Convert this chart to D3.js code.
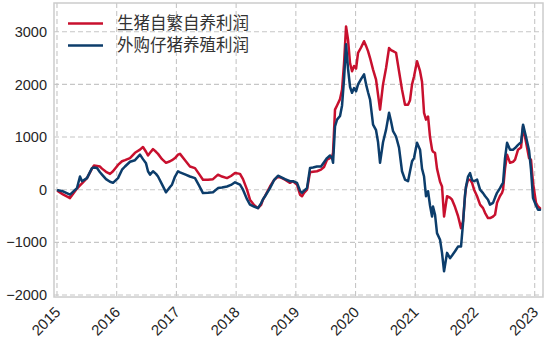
<!DOCTYPE html>
<html>
<head>
<meta charset="utf-8">
<script src="https://cdn.jsdelivr.net/npm/d3@7"></script>
<style>
  html, body { margin: 0; padding: 0; background: #ffffff; }
  svg { display: block; }
</style>
</head>
<body>
<svg id="chart" width="550" height="343"></svg>
<script>
// Hog farming profit (yuan/head): self-bred vs. purchased piglets, sampled in decimal years
const years = [
  2015.017, 2015.100, 2015.218, 2015.335, 2015.385, 2015.419, 2015.502, 2015.586, 2015.620, 2015.670,
  2015.720, 2015.754, 2015.821, 2015.888, 2015.938, 2016.022, 2016.089, 2016.139, 2016.223, 2016.306,
  2016.390, 2016.440, 2016.491, 2016.524, 2016.558, 2016.608, 2016.658, 2016.692, 2016.759, 2016.826,
  2016.893, 2016.926, 2016.977, 2017.027, 2017.060, 2017.144, 2017.227, 2017.311, 2017.378, 2017.445,
  2017.529, 2017.613, 2017.696, 2017.763, 2017.847, 2017.914, 2017.981, 2018.065, 2018.115, 2018.182,
  2018.232, 2018.299, 2018.366, 2018.417, 2018.450, 2018.484, 2018.567, 2018.634, 2018.701, 2018.768,
  2018.818, 2018.902, 2018.952, 2019.020, 2019.070, 2019.103, 2019.137, 2019.187, 2019.237, 2019.287,
  2019.354, 2019.421, 2019.472, 2019.522, 2019.572, 2019.606, 2019.623, 2019.656, 2019.690, 2019.740,
  2019.774, 2019.807, 2019.841, 2019.874, 2019.908, 2019.941, 2019.975, 2020.009, 2020.042, 2020.092,
  2020.142, 2020.176, 2020.209, 2020.243, 2020.293, 2020.343, 2020.377, 2020.410, 2020.460, 2020.511,
  2020.561, 2020.594, 2020.628, 2020.678, 2020.728, 2020.778, 2020.828, 2020.879, 2020.912, 2020.946,
  2020.979, 2021.029, 2021.080, 2021.113, 2021.147, 2021.180, 2021.214, 2021.247, 2021.281, 2021.297,
  2021.331, 2021.364, 2021.415, 2021.448, 2021.482, 2021.532, 2021.582, 2021.616, 2021.666, 2021.716,
  2021.766, 2021.800, 2021.833, 2021.850, 2021.884, 2021.917, 2021.951, 2021.985, 2022.035, 2022.085,
  2022.135, 2022.168, 2022.218, 2022.252, 2022.302, 2022.336, 2022.369, 2022.419, 2022.453, 2022.470,
  2022.503, 2022.537, 2022.587, 2022.637, 2022.671, 2022.721, 2022.771, 2022.805, 2022.855, 2022.905,
  2022.938, 2022.972, 2023.022, 2023.056, 2023.089
];

// 生猪自繁自养利润
const selfBred = [
   -30,  -90, -160,   20,   80,  120,  220,  400,  460,  450,
   440,  400,  340,  300,  350,  470,  540,  560,  600,  700,
   760,  810,  720,  650,  700,  770,  720,  680,  580,  510,
   540,  560,  600,  665,  680,  560,  440,  410,  300,  190,
   190,  200,  285,  250,  220,  260,  315,  300,  200,    0,
  -190, -290, -350, -290, -190, -120,   60,  180,  250,  220,
   190,  130,  160,   95,  -95, -125,  -60,    0,  330,  340,
   350,  380,  430,  570,  600,  630,  700, 1520, 1600, 1720,
  1900, 2400, 3100, 2850, 2400, 2250, 2350, 2300, 2600, 2700,
  2820, 2730, 2630, 2500, 2280, 2090, 1800, 1520, 2000, 2310,
  2690, 2650, 2630, 2600, 2250, 1900, 1615, 1615, 1700, 2000,
  2150, 2440, 2250, 2050, 1460, 1330, 1390, 1000,  760,  720,
   700,  400,  150,   60, -510, -125, -150, -190, -330, -500,
  -730, -600, -125,   50,  190,  190,  130,    0, -125, -285,
  -350, -440, -540, -540, -510, -475, -250, -120,  -60,    0,
   400,  665,  510,  530,  570,  760,  800, 1200,  900,  600,
   570,  130, -250, -320, -350
];

// 外购仔猪养殖利润
const purchased = [
   -10,  -30,  -95,   30,  250,  160,  220,  410,  420,  410,
   330,  285,  200,  150,  130,  220,  380,  440,  530,  560,
   665,  580,  500,  350,  285,  350,  300,  250,  100,  -50,
    50,   95,  250,  350,  330,  290,  250,  220,   80,  -65,
   -60,  -50,   30,   40,   60,   90,  140,   95,    0, -180,
  -285, -320, -350, -260, -180, -125,   30,  180,  265,  230,
   200,  160,  160,  130,  -20,  -60,  -20,   30,  410,  420,
   440,  440,  520,  600,  650,  600,  510, 1200, 1330, 1400,
  1600, 2100, 2760, 2300, 1950, 1840, 1930, 1870, 2000, 2100,
  2190, 2000, 1850, 1710, 1235, 1130,  900,  510,  900, 1140,
  1460, 1300, 1110, 1010,  800,  350,  190,  160,  350,  540,
   600,  890,  760,  400,  250, -125,  -30, -300, -510, -320,
  -475, -825, -950, -1200, -1550, -1200, -1300, -1250, -1170, -1080,
  -1080, -635, -100,   60,  250,  315,  180,  160,  190,    0,
   -65, -120, -190, -285, -250, -150,  -60,   30,  100,  130,
   600,  890,  760,  760,  790,  850,  900, 1235, 1000,  750,
   380, -160, -300, -380, -380
];

const yTicks = [-2000, -1000, 0, 1000, 2000, 3000];
const xTicks = [2015, 2016, 2017, 2018, 2019, 2020, 2021, 2022, 2023];

const seriesNames = ["生猪自繁自养利润", "外购仔猪养殖利润"];
const seriesColors = ["#c8102e", "#0c3d6b"];

const W = 550, H = 343;
const margin = { top: 3, right: 7, bottom: 46, left: 54 };
const innerW = W - margin.left - margin.right;
const innerH = H - margin.top - margin.bottom;

const svg = d3.select("#chart");
const g = svg.append("g").attr("transform", `translate(${margin.left},${margin.top})`);

const x = d3.scaleLinear().domain([2014.95, 2023.139]).range([0, innerW]);
const y = d3.scaleLinear().domain([-2038, 3545]).range([innerH, 0]);

const gridColor = "#c6c6c6";
const textColor = "#262626";
const tickFont = "Liberation Sans, Arial, sans-serif";

// dashed grid
g.append("g")
  .selectAll("line")
  .data(yTicks)
  .join("line")
  .attr("x1", 0).attr("x2", innerW)
  .attr("y1", d => y(d)).attr("y2", d => y(d))
  .attr("stroke", gridColor).attr("stroke-width", 1.1)
  .attr("stroke-dasharray", "5,3");

g.append("g")
  .selectAll("line")
  .data(xTicks)
  .join("line")
  .attr("x1", d => x(d)).attr("x2", d => x(d))
  .attr("y1", 0).attr("y2", innerH)
  .attr("stroke", gridColor).attr("stroke-width", 1.1)
  .attr("stroke-dasharray", "5,3");

// axes (labels only, no tick marks)
const yAxis = g.append("g")
  .call(d3.axisLeft(y).tickValues(yTicks).tickSize(0).tickPadding(7)
    .tickFormat(d => d < 0 ? "\u2212" + Math.abs(d) : String(d)));
yAxis.select(".domain").remove();
yAxis.selectAll("text")
  .attr("fill", textColor)
  .style("font-family", tickFont)
  .style("font-size", "14.5px");

const xAxis = g.append("g")
  .attr("transform", `translate(0,${innerH})`)
  .call(d3.axisBottom(x).tickValues(xTicks).tickSize(0).tickPadding(0).tickFormat(d3.format("d")));
xAxis.select(".domain").remove();
xAxis.selectAll("text")
  .attr("fill", textColor)
  .style("font-family", tickFont)
  .style("font-size", "15px")
  .attr("text-anchor", "end")
  .attr("dy", "0")
  .attr("transform", "translate(4,16) rotate(-45)");

// series lines
const seriesData = [selfBred, purchased];
const line = d3.line()
  .x((d, i) => x(years[i]))
  .y(d => y(d))
  .curve(d3.curveLinear);

g.append("g")
  .selectAll("path")
  .data(seriesData)
  .join("path")
  .attr("d", d => line(d))
  .attr("fill", "none")
  .attr("stroke", (d, i) => seriesColors[i])
  .attr("stroke-width", 2.5)
  .attr("stroke-linejoin", "round")
  .attr("stroke-linecap", "round");

// frame
g.append("rect")
  .attr("x", 0).attr("y", 0)
  .attr("width", innerW).attr("height", innerH)
  .attr("fill", "none")
  .attr("stroke", "#cccccc")
  .attr("stroke-width", 1.5);

// legend
const legend = g.append("g").attr("transform", "translate(14,20.5)");
const items = legend.selectAll("g")
  .data(seriesNames)
  .join("g")
  .attr("transform", (d, i) => `translate(0,${i * 22})`);
items.append("line")
  .attr("x1", 0).attr("x2", 35)
  .attr("y1", 0).attr("y2", 0)
  .attr("stroke", (d, i) => seriesColors[i])
  .attr("stroke-width", 2.5);
items.append("text")
  .attr("x", 49).attr("y", 0)
  .attr("dy", "0.36em")
  .attr("fill", "#333333")
  .style("font-family", "Noto Sans CJK SC, sans-serif")
  .style("font-size", "16.5px")
  .text(d => d);
</script>
</body>
</html>
